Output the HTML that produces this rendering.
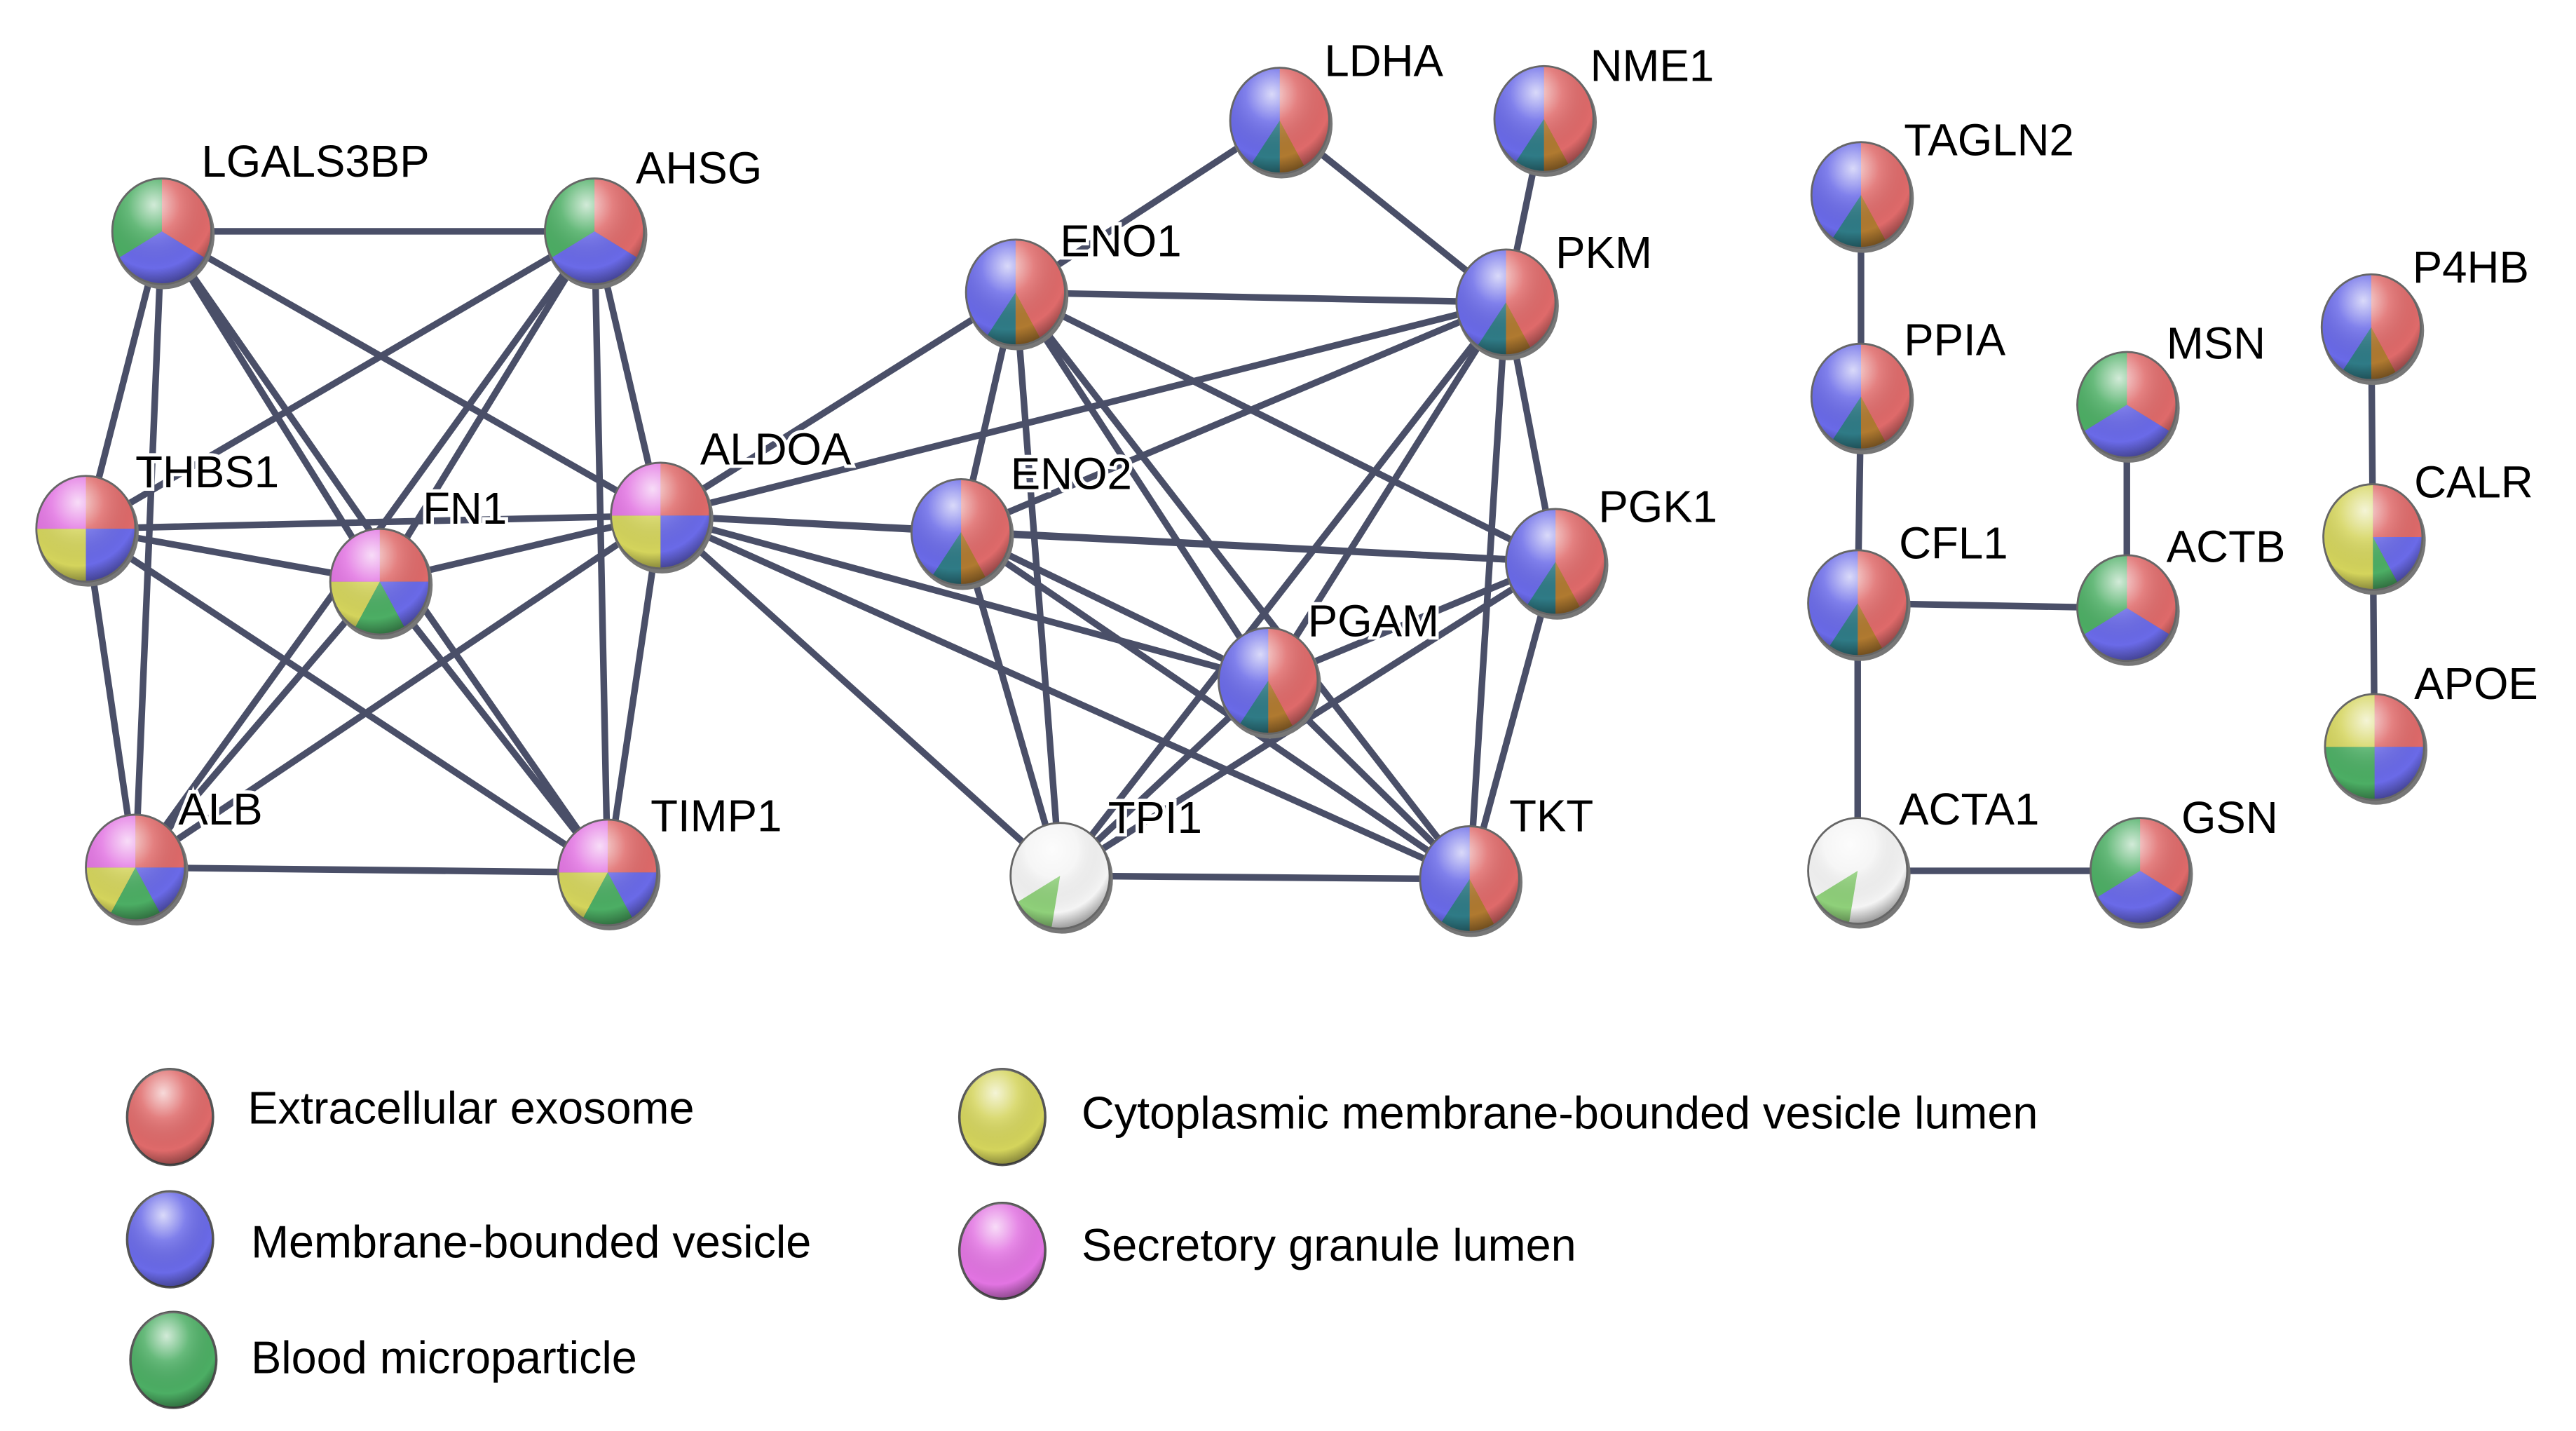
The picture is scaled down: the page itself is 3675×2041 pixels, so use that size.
<!DOCTYPE html>
<html><head><meta charset="utf-8"><style>
html,body{margin:0;padding:0;background:#fff;}
svg{display:block;}
text{font-family:"Liberation Sans",Arial,sans-serif;fill:#000;}
.lb text{stroke:#fff;stroke-width:4;paint-order:stroke;}
</style></head><body>
<svg id="s" width="3675" height="2041" viewBox="0 0 1560 866" preserveAspectRatio="none" xmlns="http://www.w3.org/2000/svg">
<defs>
<radialGradient id="gl" cx="0.42" cy="0.25" r="0.75">
<stop offset="0" stop-color="#fff" stop-opacity="0.75"/>
<stop offset="0.35" stop-color="#fff" stop-opacity="0.15"/>
<stop offset="0.8" stop-color="#000" stop-opacity="0"/>
<stop offset="1" stop-color="#000" stop-opacity="0.35"/>
</radialGradient>
</defs>
<g id="edges" stroke="#4a4f68" stroke-width="4" stroke-linecap="round"></g>
<g id="nodes"></g>
<g class="lb" font-size="27">
<text x="122" y="107">LGALS3BP</text>
<text x="385" y="111">AHSG</text>
<text x="82" y="295">THBS1</text>
<text x="256" y="317">FN1</text>
<text x="424" y="281">ALDOA</text>
<text x="108" y="499">ALB</text>
<text x="394" y="503">TIMP1</text>
<text x="642" y="155">ENO1</text>
<text x="802" y="46">LDHA</text>
<text x="963" y="49">NME1</text>
<text x="942" y="162">PKM</text>
<text x="612" y="296">ENO2</text>
<text x="968" y="316">PGK1</text>
<text x="792" y="385">PGAM</text>
<text x="671" y="504">TPI1</text>
<text x="914" y="503">TKT</text>
<text x="1153" y="94">TAGLN2</text>
<text x="1153" y="215">PPIA</text>
<text x="1150" y="338">CFL1</text>
<text x="1150" y="499">ACTA1</text>
<text x="1321" y="504">GSN</text>
<text x="1312" y="217">MSN</text>
<text x="1312" y="340">ACTB</text>
<text x="1461" y="171">P4HB</text>
<text x="1462" y="301">CALR</text>
<text x="1462" y="423">APOE</text>
</g>
<g font-size="27.5">
<text x="150" y="680">Extracellular exosome</text>
<text x="152" y="761">Membrane-bounded vesicle</text>
<text x="152" y="831">Blood microparticle</text>
<text x="655" y="683">Cytoplasmic membrane-bounded vesicle lumen</text>
<text x="655" y="763">Secretory granule lumen</text>
</g>
</svg>
<script>
var R='#df6a6a',B='#6a6ae8',G='#4cae64',Y='#d4d45c',M='#e274e2',T='#2f7b86',W='#f4f4f4',LG='#8fd07a';
var N={
LGALS3BP:[98,140,'rbg'],AHSG:[360,140,'rbg'],THBS1:[52,320,'q'],FN1:[230,352,'f'],ALDOA:[400,312,'q'],ALB:[82,525,'f'],TIMP1:[368,528,'f'],
ENO1:[615,177,'rb'],LDHA:[775,73,'rb'],NME1:[935,72,'rb'],PKM:[912,183,'rb'],ENO2:[582,322,'rb'],PGK1:[942,340,'rb'],PGAM:[768,412,'rb'],TPI1:[642,530,'w'],TKT:[890,532,'rb'],
TAGLN2:[1127,118,'rb'],PPIA:[1127,240,'rb'],CFL1:[1125,365,'rb'],ACTA1:[1125,527,'w'],GSN:[1296,527,'rbg'],MSN:[1288,245,'rbg'],ACTB:[1288,368,'rbg'],
P4HB:[1436,198,'rb'],CALR:[1437,325,'c'],APOE:[1438,452,'a']};
var S={rbg:[[0,120,R],[120,240,B],[240,360,G]],
q:[[0,90,R],[90,180,B],[180,270,Y],[270,360,M]],
f:[[0,90,R],[90,150,B],[150,210,G],[210,270,Y],[270,360,M]],
rb:[[0,180,R],[180,360,B],[150,180,'#b07a30'],[180,215,T]],
w:[[0,360,W],[190,240,LG]],
c:[[0,90,R],[90,150,B],[150,180,G],[180,360,Y]],
a:[[0,90,R],[90,180,B],[180,270,G],[270,360,Y]]};
var E=[['LGALS3BP','AHSG'],['LGALS3BP','THBS1'],['LGALS3BP','FN1'],['LGALS3BP','ALDOA'],['LGALS3BP','ALB'],['LGALS3BP','TIMP1'],
['AHSG','THBS1'],['AHSG','FN1'],['AHSG','ALDOA'],['AHSG','TIMP1'],['AHSG','ALB'],
['THBS1','FN1'],['THBS1','ALDOA'],['THBS1','ALB'],['THBS1','TIMP1'],['FN1','ALDOA'],['FN1','ALB'],['FN1','TIMP1'],
['ALDOA','ALB'],['ALDOA','TIMP1'],['ALB','TIMP1'],
['ALDOA','ENO1'],['ALDOA','ENO2'],['ALDOA','PKM'],['ALDOA','PGK1'],['ALDOA','PGAM'],['ALDOA','TPI1'],['ALDOA','TKT'],
['ENO1','LDHA'],['ENO1','PKM'],['ENO1','ENO2'],['ENO1','PGAM'],['ENO1','TPI1'],['ENO1','PGK1'],['ENO1','TKT'],
['LDHA','PKM'],['NME1','PKM'],['PKM','ENO2'],['PKM','PGK1'],['PKM','PGAM'],['PKM','TPI1'],['PKM','TKT'],
['ENO2','PGK1'],['ENO2','PGAM'],['ENO2','TPI1'],['ENO2','TKT'],['PGK1','PGAM'],['PGK1','TPI1'],['PGK1','TKT'],
['PGAM','TPI1'],['PGAM','TKT'],['TPI1','TKT'],
['TAGLN2','PPIA'],['PPIA','CFL1'],['CFL1','ACTB'],['CFL1','ACTA1'],['ACTA1','GSN'],['MSN','ACTB'],['P4HB','CALR'],['CALR','APOE']];
var ns='http://www.w3.org/2000/svg',eg=document.getElementById('edges'),ng=document.getElementById('nodes');
function el(t,a,p){var e=document.createElementNS(ns,t);for(var k in a)e.setAttribute(k,a[k]);p.appendChild(e);return e;}
E.forEach(function(e){var a=N[e[0]],b=N[e[1]];el('line',{x1:a[0],y1:a[1],x2:b[0],y2:b[1]},eg);});
var rx=30,ry=32;
function pt(c,a){a=a*Math.PI/180;return [c[0]+rx*Math.sin(a),c[1]-ry*Math.cos(a)];}
function slice(c,a0,a1,col,g){
 if(a1-a0>=360){el('ellipse',{cx:c[0],cy:c[1],rx:rx,ry:ry,fill:col},g);return;}
 var p=pt(c,a0),q=pt(c,a1);
 el('path',{d:'M'+c[0]+','+c[1]+'L'+p[0]+','+p[1]+'A'+rx+','+ry+' 0 '+((a1-a0)>180?1:0)+' 1 '+q[0]+','+q[1]+'Z',fill:col},g);}
function node(c,sl){var g=el('g',{},ng);
 el('ellipse',{cx:c[0]+1,cy:c[1]+2,rx:rx+1,ry:ry+1,fill:'#777'},g);
 sl.forEach(function(s){slice(c,s[0],s[1],s[2],g);});
 el('ellipse',{cx:c[0],cy:c[1],rx:rx,ry:ry,fill:'url(#gl)',stroke:'#666','stroke-width':1.2},g);}
for(var k in N)node(N[k],S[N[k][2]]);
[[103,676,R],[103,750,B],[105,823,G],[607,676,Y],[607,757,M]].forEach(function(l){
 var g=el('g',{},ng);el('ellipse',{cx:l[0],cy:l[1],rx:26,ry:29,fill:l[2],stroke:'#555','stroke-width':1.5},g);
 el('ellipse',{cx:l[0],cy:l[1],rx:26,ry:29,fill:'url(#gl)'},g);});
</script>
</body></html>
